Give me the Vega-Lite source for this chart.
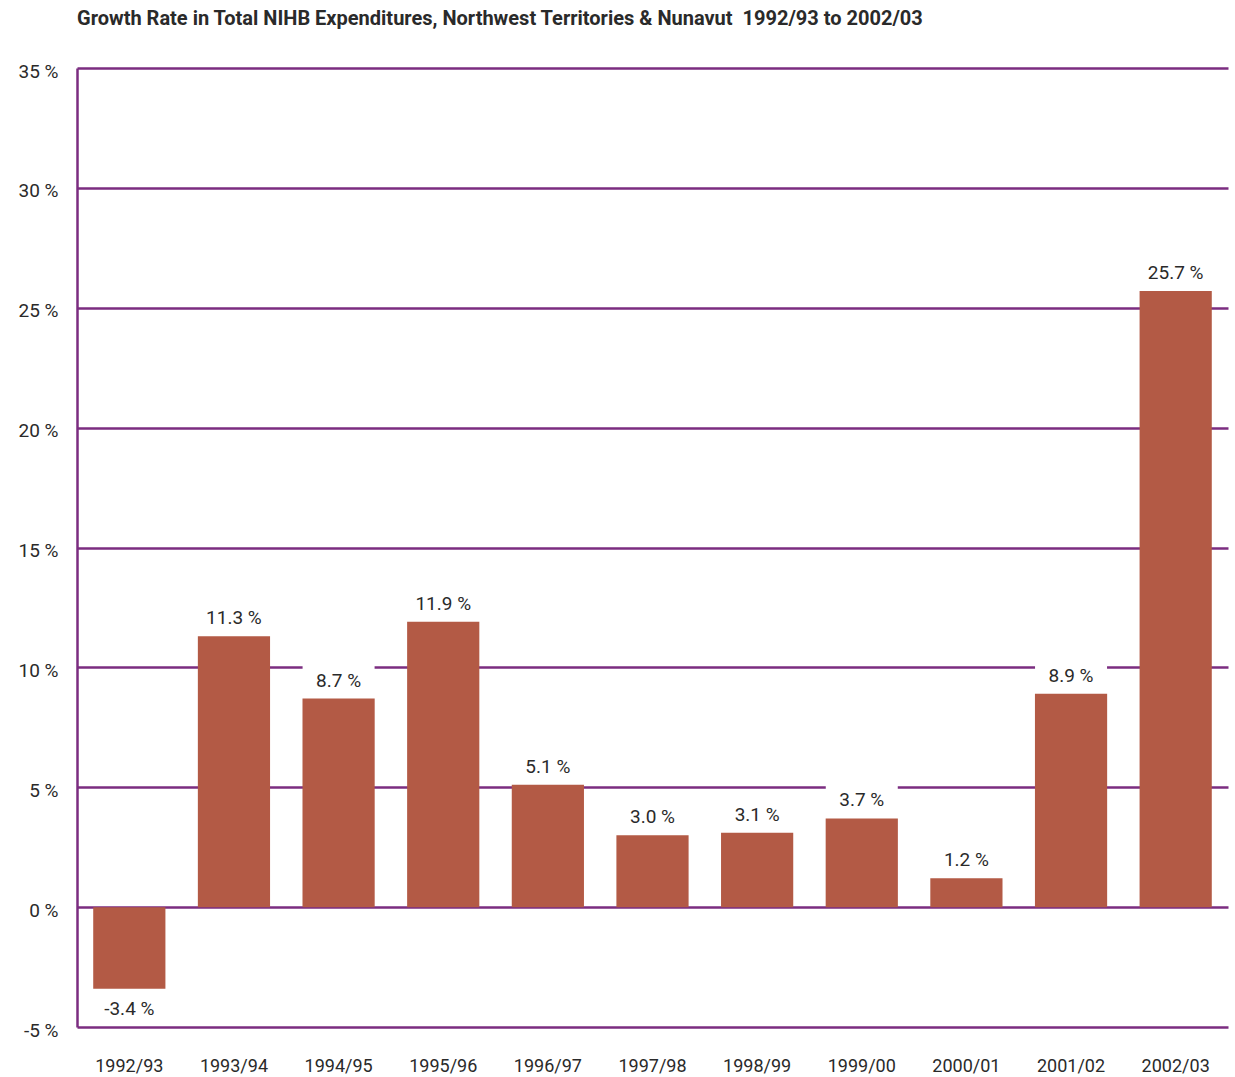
{
  "$schema": "https://vega.github.io/schema/vega-lite/v6.json",
  "autosize": {"type": "none"},
  "padding": {"left": 77, "top": 68, "right": 7, "bottom": 50},
  "width": 1151,
  "height": 959,
  "background": "white",
  "title": {
    "text": "Growth Rate in Total NIHB Expenditures, Northwest Territories & Nunavut \u00a01992/93 to 2002/03",
    "anchor": "start",
    "frame": "group",
    "fontSize": 20,
    "fontWeight": "bold",
    "font": "Roboto, sans-serif",
    "color": "#2a2a2a",
    "offset": 33
  },
  "config": {
    "view": {"stroke": null},
    "font": "Roboto, sans-serif"
  },
  "data": {
    "values": [
      {"year": "1992/93", "value": -3.4, "label": "-3.4 %"},
      {"year": "1993/94", "value": 11.3, "label": "11.3 %"},
      {"year": "1994/95", "value": 8.7, "label": "8.7 %"},
      {"year": "1995/96", "value": 11.9, "label": "11.9 %"},
      {"year": "1996/97", "value": 5.1, "label": "5.1 %"},
      {"year": "1997/98", "value": 3.0, "label": "3.0 %"},
      {"year": "1998/99", "value": 3.1, "label": "3.1 %"},
      {"year": "1999/00", "value": 3.7, "label": "3.7 %"},
      {"year": "2000/01", "value": 1.2, "label": "1.2 %"},
      {"year": "2001/02", "value": 8.9, "label": "8.9 %"},
      {"year": "2002/03", "value": 25.7, "label": "25.7 %"}
    ]
  },
  "encoding": {
    "x": {
      "field": "year",
      "type": "nominal",
      "sort": ["1992/93", "1993/94", "1994/95", "1995/96", "1996/97", "1997/98", "1998/99", "1999/00", "2000/01", "2001/02", "2002/03"],
      "scale": {"paddingInner": 0.31, "paddingOuter": 0.155},
      "axis": {
        "title": null,
        "labelAngle": 0,
        "ticks": false,
        "domain": false,
        "labelFontSize": 18,
        "labelColor": "#2a2a2a",
        "labelPadding": 30,
        "labelFont": "Roboto, sans-serif"
      }
    },
    "y": {
      "field": "value",
      "type": "quantitative",
      "scale": {"domain": [-5, 35], "nice": false, "zero": false},
      "axis": {
        "title": null,
        "values": [-5, 0, 5, 10, 15, 20, 25, 30, 35],
        "labelExpr": "datum.value + ' %'",
        "ticks": false,
        "domainColor": "#7b2d80",
        "domainWidth": 2.5,
        "grid": true,
        "gridColor": "#7b2d80",
        "gridWidth": 2.5,
        "gridOpacity": 1,
        "labelFontSize": 19,
        "labelColor": "#2a2a2a",
        "labelPadding": 19,
        "labelOffset": 3,
        "labelFont": "Roboto, sans-serif"
      }
    }
  },
  "layer": [
    {
      "transform": [{"filter": "datum.value >= 0"}],
      "mark": {
        "type": "point",
        "shape": "M-1.2,-0.65H1.2V0.65H-1.2Z",
        "size": 3600,
        "filled": true,
        "fill": "white",
        "opacity": 1,
        "strokeWidth": 0,
        "yOffset": -19
      }
    },
    {
      "mark": {"type": "bar", "color": "#b35a45"},
      "encoding": {"y2": {"datum": 0}}
    },
    {
      "transform": [{"filter": "datum.value >= 0"}],
      "mark": {"type": "text", "dy": -18, "fontSize": 19, "color": "#2a2a2a"},
      "encoding": {"text": {"field": "label"}}
    },
    {
      "transform": [{"filter": "datum.value < 0"}],
      "mark": {"type": "text", "dy": 20, "fontSize": 19, "color": "#2a2a2a"},
      "encoding": {"text": {"field": "label"}}
    }
  ]
}
